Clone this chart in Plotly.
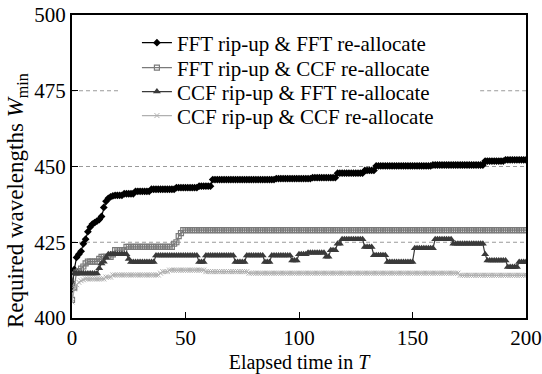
import plotly.graph_objects as go

# Elapsed time T = 0..200
T = list(range(201))

fft_fft = [
    409.5, 416, 420, 421, 422, 424.5, 426, 428.5, 430, 431,
    431.5, 432, 432.5, 433.5, 436.5, 438.5, 439.5, 440, 440.3, 440.5,
    440.5, 440.5, 440.5, 441, 441, 441, 441, 441, 441.8, 441.8,
    441.8, 441.8, 441.8, 441.8, 441.8, 442.5, 442.5, 442.5, 442.5, 442.5,
    442.5, 442.5, 442.5, 442.5, 442.5, 442.5, 443, 443, 443, 443,
    443, 443, 443, 443, 443, 443, 443.5, 443.5, 443.5, 443.5,
    443.5, 443.5, 445.7, 445.7, 445.7, 445.7, 445.7, 445.7, 445.7, 445.7,
    445.7, 445.7, 445.7, 445.7, 445.7, 445.7, 445.7, 445.7, 445.7, 445.7,
    445.7, 445.7, 445.7, 445.7, 445.7, 445.7, 445.7, 445.7, 445.7, 445.7,
    446, 446, 446, 446, 446, 446, 446, 446, 446, 446,
    446, 446, 446, 446, 446, 446, 446.3, 446.3, 446.3, 446.3,
    446.3, 446.3, 446.3, 446.3, 446.3, 446.3, 446.3, 447.8, 447.8, 447.8,
    447.8, 447.8, 447.8, 447.8, 447.8, 447.8, 447.8, 447.8, 447.8, 448.7,
    448.7, 448.7, 448.7, 448.7, 450.2, 450.2, 450.2, 450.2, 450.2, 450.2,
    450.2, 450.2, 450.2, 450.2, 450.2, 450.2, 450.2, 450.2, 450.2, 450.2,
    450.2, 450.2, 450.2, 450.2, 450.2, 450.2, 450.2, 450.2, 450.2, 450.5,
    450.5, 450.5, 450.5, 450.5, 450.5, 450.5, 450.5, 450.5, 450.5, 450.5,
    450.5, 450.5, 450.5, 450.5, 450.5, 450.5, 450.5, 450.5, 450.5, 450.5,
    450.5, 450.5, 451.8, 451.8, 451.8, 451.8, 451.8, 451.8, 451.8, 451.8,
    451.8, 452.2, 452.2, 452.2, 452.2, 452.2, 452.2, 452.2, 452.2, 452.2,
    452.2,
]

fft_ccf = [
    406, 410, 415, 415.5, 416.3, 417, 418, 418.6, 418.6, 418.6,
    418.6, 418.6, 419.5, 420.2, 420.2, 420.2, 420.2, 420.2, 421, 422.4,
    422.4, 422.4, 422.4, 422.4, 423.5, 423.5, 423.5, 423.5, 423.5, 423.5,
    423.5, 423.5, 423.5, 423.5, 423.5, 423.5, 423.5, 423.5, 423.5, 423.5,
    423.5, 423.5, 423.5, 423.5, 423.5, 424.5, 425, 427, 428, 429,
    429, 429, 429, 429, 429, 429, 429, 429, 429, 429,
    429, 429, 429, 429, 429, 429, 429, 429, 429, 429,
    429, 429, 429, 429, 429, 429, 429, 429, 429, 429,
    429, 429, 429, 429, 429, 429, 429, 429, 429, 429,
    429, 429, 429, 429, 429, 429, 429, 429, 429, 429,
    429, 429, 429, 429, 429, 429, 429, 429, 429, 429,
    429, 429, 429, 429, 429, 429, 429, 429, 429, 429,
    429, 429, 429, 429, 429, 429, 429, 429, 429, 429,
    429, 429, 429, 429, 429, 429, 429, 429, 429, 429,
    429, 429, 429, 429, 429, 429, 429, 429, 429, 429,
    429, 429, 429, 429, 429, 429, 429, 429, 429, 429,
    429, 429, 429, 429, 429, 429, 429, 429, 429, 429,
    429, 429, 429, 429, 429, 429, 429, 429, 429, 429,
    429, 429, 429, 429, 429, 429, 429, 429, 429, 429,
    429, 429, 429, 429, 429, 429, 429, 429, 429, 429,
    429,
]

ccf_fft = [
    412, 414.7, 414.7, 414.7, 414.7, 414.7, 414.7, 414.7, 414.7, 414.7,
    414.7, 414.7, 416.4, 418, 418.6, 420, 421, 421, 421, 421,
    421, 421, 421, 421, 421, 419.5, 418.5, 418.5, 418.5, 418.5,
    418.5, 418.5, 418.5, 418.5, 418.5, 418.5, 418.5, 420.6, 420.6, 420.6,
    420.6, 420.6, 420.6, 420.6, 420.6, 420.6, 420.6, 420.6, 420.6, 420.6,
    420.6, 420.6, 420.6, 420.6, 420.6, 420.6, 418.5, 418.5, 418.5, 420.6,
    420.6, 420.6, 420.6, 420.6, 420.6, 420.6, 420.6, 420.6, 420.6, 420.6,
    420.6, 420.6, 418.5, 418.5, 418.5, 418.5, 418.5, 420.6, 420.6, 420.6,
    420.6, 420.6, 420.6, 420.6, 420.6, 418.5, 418.5, 418.5, 420.6, 420.6,
    420.6, 420.6, 420.6, 420.6, 420.6, 420.6, 420.6, 419, 419, 419,
    421, 421, 421, 421, 421.5, 421.5, 421.5, 421.5, 421.5, 421.5,
    421.5, 421.5, 420.2, 420.2, 422.4, 422.4, 422.4, 424.5, 424.5, 426,
    426, 426, 426, 426, 426, 426, 426, 426, 426, 423.4,
    423.4, 423.4, 423.4, 420.7, 420.7, 420.7, 420.7, 420.7, 420.7, 418.5,
    418.5, 418.5, 418.5, 418.5, 418.5, 418.5, 418.5, 418.5, 418.5, 418.5,
    418.5, 423, 423, 423, 423, 423, 423, 423, 423, 423,
    426, 426, 426, 426, 426, 426, 426, 426, 424.5, 424.5,
    424.5, 424.5, 424.5, 424.5, 424.5, 424.5, 424.5, 424.5, 424.5, 424.5,
    424.5, 424.5, 421, 419, 419, 419, 419, 419, 419, 419,
    419, 419, 416.8, 416.8, 416.8, 416.8, 416.8, 418.5, 418.5, 418.5,
    418.5,
]

ccf_ccf = [
    405.3, 409.6, 411, 411.8, 412.3, 412.6, 412.9, 412.9, 412.9, 412.9,
    412.9, 412.9, 412.9, 412.9, 412.9, 413.5, 413.5, 413.5, 414.2, 414.2,
    414.2, 414.2, 414.2, 414.2, 414.2, 414.2, 414.2, 414.2, 414.2, 414.2,
    414.2, 414.2, 414.2, 414.2, 414.2, 414.2, 414.2, 414.2, 414.2, 414.8,
    415.3, 415.3, 415.3, 415.8, 415.8, 415.8, 415.8, 415.8, 415.8, 415.8,
    415.8, 415.8, 415.8, 415.8, 415.8, 415.8, 415.8, 415.8, 415.8, 415.3,
    415.3, 415.3, 415.3, 415.3, 415.3, 415.3, 415.3, 415.3, 415.3, 415.3,
    415.3, 415.3, 415.3, 415.3, 415.3, 415.3, 415.3, 415.3, 414.8, 414.8,
    414.8, 414.8, 414.8, 414.8, 414.8, 414.8, 414.8, 414.8, 414.8, 414.8,
    414.8, 414.8, 414.8, 414.8, 414.8, 414.8, 414.8, 414.8, 414.8, 414.8,
    414.8, 414.8, 414.8, 414.8, 414.8, 414.8, 414.8, 414.8, 414.8, 414.8,
    414.8, 414.8, 414.8, 414.8, 414.8, 414.8, 414.8, 414.8, 414.8, 414.8,
    414.8, 414.8, 414.8, 414.8, 414.8, 414.8, 414.8, 414.8, 414.8, 414.8,
    414.8, 414.8, 414.8, 414.8, 414.8, 414.8, 414.8, 414.8, 414.8, 414.8,
    414.8, 414.8, 414.8, 414.8, 414.8, 414.8, 414.8, 414.8, 414.8, 414.8,
    414.8, 414.8, 414.8, 414.8, 414.8, 414.8, 414.8, 414.8, 414.8, 414.8,
    414.8, 414.8, 414.8, 414.8, 414.8, 414.8, 414.8, 414.8, 414.8, 414.8,
    414.8, 414.1, 414.1, 414.1, 414.1, 414.1, 414.1, 414.1, 414.1, 414.1,
    414.1, 414.1, 414.1, 414.1, 414.1, 414.1, 414.1, 414.1, 414.1, 414.1,
    414.1, 414.1, 414.1, 414.1, 414.1, 414.1, 414.1, 414.1, 414.1, 414.1,
    414.1,
]

series_names = [
    "FFT rip-up & FFT re-allocate",
    "FFT rip-up & CCF re-allocate",
    "CCF rip-up & FFT re-allocate",
    "CCF rip-up & CCF re-allocate",
]

x_ticks = [0, 50, 100, 150, 200]
y_ticks = [400, 425, 450, 475, 500]

FONT = "Liberation Serif, Times New Roman, serif"
GRID = "#9a9a9a"

fig = go.Figure()

fig.add_trace(go.Scatter(
    x=T, y=fft_fft, name=series_names[0], mode="lines+markers", legend="legend",
    line=dict(color="#000000", width=1.2),
    marker=dict(symbol="diamond", size=6, color="#000000"),
))
fig.add_trace(go.Scatter(
    x=T, y=fft_ccf, name=series_names[1], mode="lines+markers", legend="legend2",
    line=dict(color="#7a7a7a", width=1.2),
    marker=dict(symbol="square-open", size=5, color="#7a7a7a",
                line=dict(width=1.2)),
))
fig.add_trace(go.Scatter(
    x=T, y=ccf_fft, name=series_names[2], mode="lines+markers", legend="legend3",
    line=dict(color="#3a3a3a", width=1.2),
    marker=dict(symbol="triangle-up", size=7, color="#3a3a3a"),
))
fig.add_trace(go.Scatter(
    x=T, y=ccf_ccf, name=series_names[3], mode="lines+markers", legend="legend4",
    line=dict(color="#b0b0b0", width=1.2),
    marker=dict(symbol="x-thin-open", size=5, color="#b0b0b0",
                line=dict(width=1, color="#b0b0b0")),
))

legend_rows_y = [0.9076, 0.825, 0.746, 0.667]
legend_common = dict(
    x=0.143, xanchor="left", yanchor="middle", borderwidth=0,
    bgcolor="rgba(255,255,255,0)",
    font=dict(family=FONT, size=21, color="black"),
    itemwidth=30,
)

# Dashed horizontal grid lines at the inner y ticks; the top one is
# interrupted where the legend sits, as in the reference.
legend_gap = (0.106, 0.899)
grid_shapes = []
for yv in y_ticks[1:-1]:
    if yv == y_ticks[-2]:
        spans = [(0, legend_gap[0]), (legend_gap[1], 1)]
    else:
        spans = [(0, 1)]
    for a, b in spans:
        grid_shapes.append(dict(
            type="line", xref="paper", yref="y", x0=a, x1=b, y0=yv, y1=yv,
            line=dict(color=GRID, width=1, dash="4px,3px"), layer="below",
        ))

fig.update_layout(
    width=542, height=374,
    margin=dict(l=72, r=16, t=15, b=56, autoexpand=False),
    paper_bgcolor="white", plot_bgcolor="white",
    font=dict(family=FONT, size=20, color="black"),
    showlegend=True,
    legend=dict(y=legend_rows_y[0], **legend_common),
    legend2=dict(y=legend_rows_y[1], **legend_common),
    legend3=dict(y=legend_rows_y[2], **legend_common),
    legend4=dict(y=legend_rows_y[3], **legend_common),
    xaxis=dict(
        range=[0, 200], tickvals=x_ticks, ticktext=[str(v) for v in x_ticks],
        showgrid=False, zeroline=False, automargin=False,
        showline=True, linecolor="black", linewidth=2, mirror=True,
        ticks="inside", ticklen=6, tickwidth=1, tickcolor="black",
        tickfont=dict(family=FONT, size=21),
        title=dict(text="Elapsed time in <i>T</i>", font=dict(family=FONT, size=20), standoff=14),
    ),
    yaxis=dict(
        range=[400, 500], tickvals=y_ticks, ticktext=[str(v) for v in y_ticks],
        showgrid=False, zeroline=False, automargin=False,
        showline=True, linecolor="black", linewidth=2, mirror=True,
        ticks="inside", ticklen=6, tickwidth=1, tickcolor="black",
        tickfont=dict(family=FONT, size=21),
    ),
    shapes=grid_shapes,
    annotations=[dict(
        text="Required wavelengths <i>W</i><sub>min</sub>",
        xref="paper", yref="paper", x=-0.121, y=0.386,
        xanchor="center", yanchor="middle", textangle=-90, showarrow=False,
        font=dict(family=FONT, size=23, color="black"),
    )],
)

fig.write_html("out.html")
